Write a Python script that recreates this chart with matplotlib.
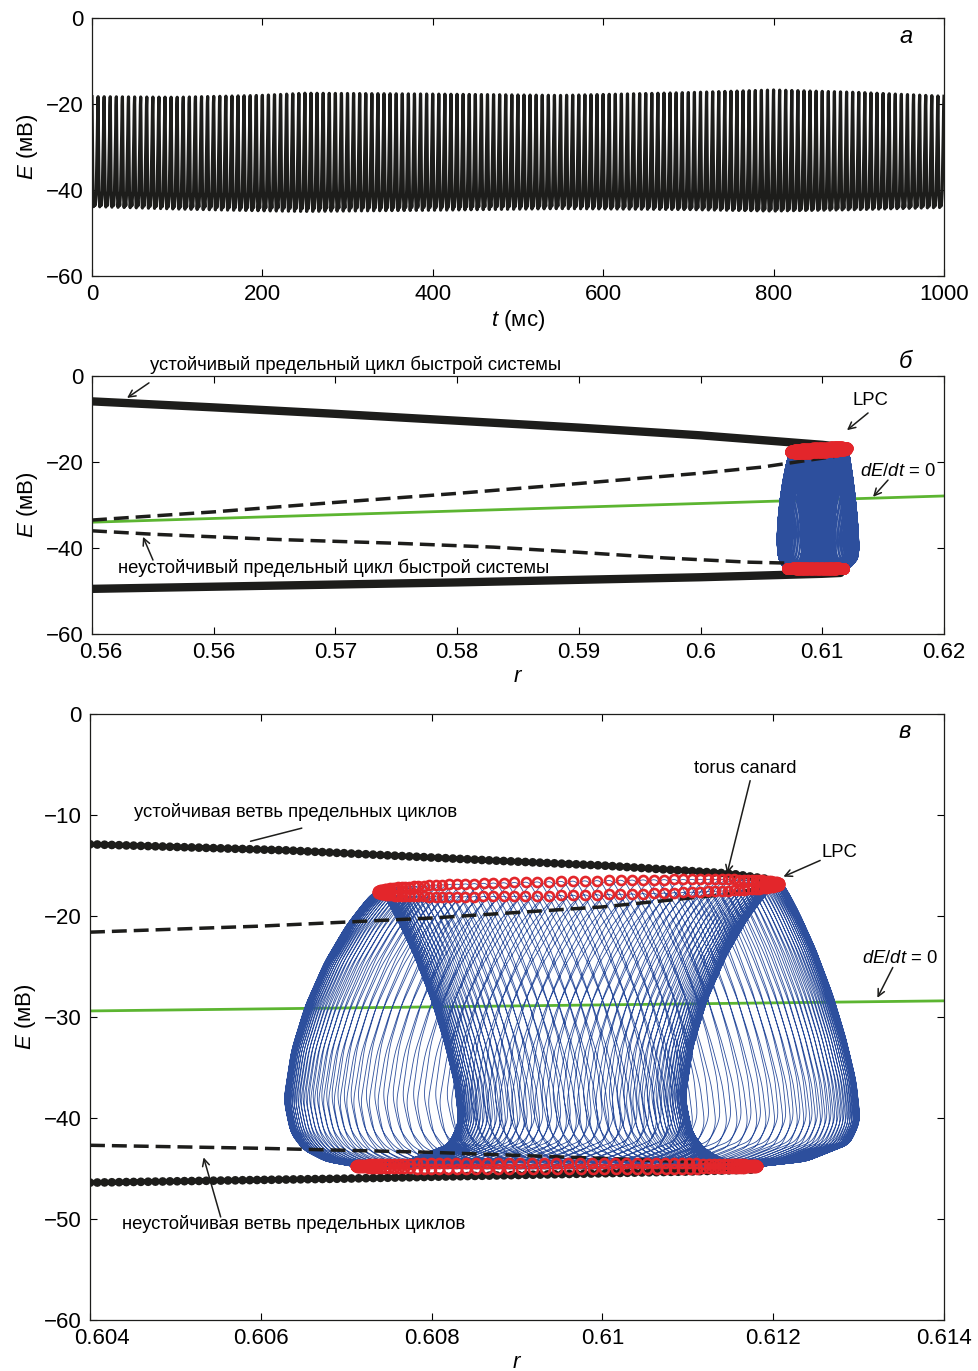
import numpy as np
import matplotlib
matplotlib.use("Agg")
import matplotlib.pyplot as plt
from matplotlib.transforms import ScaledTranslation

plt.rcParams['font.family'] = ['Liberation Sans', 'DejaVu Sans']
plt.rcParams['mathtext.fontset'] = 'custom'
plt.rcParams['mathtext.rm'] = 'Liberation Sans'
plt.rcParams['mathtext.it'] = 'Liberation Sans:italic'

BLACK = '#1d1d1b'
BLUE = '#2d4f9d'
RED = '#e3262b'
GREEN = '#5cb531'
NOTE_FS = 13.3

# ---------------- panel a: E(t) trace ----------------
A_T_ENV = [0, 100, 250, 400, 550, 700, 800, 900, 1000]
A_PEAK = [-18.3, -18.0, -16.6, -17.0, -17.5, -17.0, -16.5, -17.2, -18.2]
A_TROUGH = [-44.0, -44.5, -45.0, -44.8, -44.5, -44.8, -45.2, -44.8, -44.2]
A_N_SPIKES = 140
# one spike cycle (phase, normalised level)
A_WAVE_PHASE = [0.0, 0.06, 0.15, 0.28, 0.42, 0.55, 0.70, 0.85, 0.94, 1.0]
A_WAVE_LEVEL = [1.0, 0.60, 0.15, 0.0, 0.10, 0.02, 0.15, 0.55, 0.90, 1.0]
A_XTICKS = [0, 200, 400, 600, 800, 1000]
A_YTICKS = [0, -20, -40, -60]

# ---------------- panel б: bifurcation diagram ----------------
B_STABLE_UP_R = [0.55, 0.56, 0.57, 0.58, 0.59, 0.60, 0.605, 0.61, 0.6118]
B_STABLE_UP_E = [-5.9, -7.3, -8.8, -10.4, -12.0, -13.8, -14.9, -16.0, -16.6]
B_STABLE_LO_R = [0.55, 0.56, 0.57, 0.58, 0.59, 0.60, 0.61, 0.6115]
B_STABLE_LO_E = [-49.5, -49.0, -48.5, -48.0, -47.4, -46.8, -46.0, -45.8]
B_UNST_UP_R = [0.55, 0.56, 0.57, 0.58, 0.59, 0.60, 0.605, 0.611]
B_UNST_UP_E = [-33.5, -31.6, -29.4, -27.3, -25.0, -22.6, -21.2, -18.7]
B_UNST_LO_R = [0.55, 0.555, 0.565, 0.575, 0.583, 0.59, 0.597, 0.604, 0.607]
B_UNST_LO_E = [-36.0, -36.8, -38.0, -38.9, -39.8, -41.0, -42.3, -43.3, -43.5]
B_NULL_R = [0.55, 0.62]
B_NULL_E = [-34.0, -27.9]
B_XTICKS = [0.55, 0.56, 0.57, 0.58, 0.59, 0.60, 0.61, 0.62]
B_XTICKLABELS = ['0.56', '0.56', '0.57', '0.58', '0.59', '0.6', '0.61', '0.62']

# ---------------- panel в: zoom on the torus ----------------
C_STABLE_UP_R = [0.604, 0.6063, 0.6087, 0.610, 0.6115, 0.6119]
C_STABLE_UP_E = [-12.9, -13.5, -14.5, -15.0, -15.8, -16.3]
C_UNST_UP_R = [0.604, 0.606, 0.608, 0.610, 0.6114, 0.6119]
C_UNST_UP_E = [-21.6, -21.0, -20.2, -19.1, -17.9, -17.2]
C_STABLE_LO_R = [0.604, 0.607, 0.6087, 0.611, 0.6118]
C_STABLE_LO_E = [-46.4, -46.0, -45.7, -45.3, -45.1]
C_UNST_LO_R = [0.604, 0.606, 0.608, 0.610, 0.6112, 0.6118]
C_UNST_LO_E = [-42.7, -43.0, -43.4, -44.0, -44.4, -44.8]
C_NULL_R = [0.604, 0.614]
C_NULL_E = [-29.4, -28.4]
C_XTICKS = [0.604, 0.606, 0.608, 0.610, 0.612, 0.614]
C_XTICKLABELS = ['0.604', '0.606', '0.608', '0.61', '0.612', '0.614']
C_YTICKS = [0, -10, -20, -30, -40, -50, -60]

# torus trajectory: one fast loop (level u: 1 = top, 0 = bottom; dr = r offset from the top)
LOOP_U = [1.00, 0.985, 0.95, 0.87, 0.74, 0.58, 0.42, 0.24, 0.12, 0.06, 0.02, 0.00,
          0.02, 0.08, 0.16, 0.30, 0.45, 0.60, 0.76, 0.88, 0.95, 0.985]
LOOP_DR = [0.0, -0.00010, -0.00020, -0.00040, -0.00065, -0.00088, -0.00104, -0.00113,
           -0.00105, -0.00090, -0.00065, -0.00030,
           0.00030, 0.00080, 0.00092, 0.00087, 0.00075, 0.00060, 0.00040, 0.00022,
           0.00010, 0.00003]
TORUS_R = [0.6074, 0.6121]      # slow drift of the loop tops
TORUS_TOP_E = [-17.4, -16.6]    # loop top at the left / right end of the drift
TORUS_TOP_SPLIT = 0.7
TORUS_BOT_E = -44.8
TORUS_BOT_SPLIT = 0.3
N_LOOPS = 150
N_DRIFT = 1.0
DRIFT_SHARPNESS = 1.2


def loop_template(n=240):
    u = np.array(LOOP_U + [LOOP_U[0]])
    dr = np.array(LOOP_DR + [LOOP_DR[0]])
    seg = np.hypot(np.diff(dr) / 0.002, np.diff(u))
    s = np.concatenate([[0], np.cumsum(seg)])
    grid = np.linspace(0, s[-1], n, endpoint=False)
    uu = np.interp(grid, s, u)
    dd = np.interp(grid, s, dr)
    k = np.hanning(11)
    k /= k.sum()
    uu = np.convolve(np.concatenate([uu[-5:], uu, uu[:5]]), k, mode='valid')
    dd = np.convolve(np.concatenate([dd[-5:], dd, dd[:5]]), k, mode='valid')
    return uu, dd


def torus():
    uu, dd = loop_template()
    P = len(uu)
    t = np.arange(N_LOOPS * P) / P
    psi = 2 * np.pi * N_DRIFT * t / N_LOOPS
    cmid, chalf = np.mean(TORUS_R), (TORUS_R[1] - TORUS_R[0]) / 2
    k = DRIFT_SHARPNESS
    c = cmid - chalf * np.tanh(k * np.cos(psi)) / np.tanh(k)
    frac = (c - TORUS_R[0]) / (TORUS_R[1] - TORUS_R[0])
    etop = TORUS_TOP_E[0] + (TORUS_TOP_E[1] - TORUS_TOP_E[0]) * frac + TORUS_TOP_SPLIT * np.sin(psi)
    ebot = TORUS_BOT_E + TORUS_BOT_SPLIT * np.sin(psi)
    u_t = np.tile(uu, N_LOOPS)
    r = c + np.tile(dd, N_LOOPS)
    E = ebot + u_t * (etop - ebot)
    itop = np.arange(N_LOOPS) * P + np.argmax(uu)
    ibot = np.arange(N_LOOPS) * P + np.argmin(uu)
    return r, E, itop, ibot


def style_axes(ax):
    ax.tick_params(direction='in', top=True, right=True, length=5, width=0.8,
                   labelsize=16, pad=6)
    for sp in ax.spines.values():
        sp.set_linewidth(0.9)
        sp.set_color(BLACK)


def shift_first_label(ax, dx_px):
    lbl = ax.get_xticklabels()[0]
    lbl.set_transform(lbl.get_transform() + ScaledTranslation(dx_px / 100, 0, fig.dpi_scale_trans))


def arrow(ax, start, end, head=True):
    ax.annotate('', xy=end, xytext=start,
                arrowprops=dict(arrowstyle='->,head_length=0.5,head_width=0.25' if head else '-',
                                lw=1.1, color=BLACK, shrinkA=0, shrinkB=0))


W, H = 979, 1371
fig = plt.figure(figsize=(W / 100, H / 100), dpi=100)

# ---------------- a ----------------
ax1 = fig.add_axes([92 / W, 1 - 276 / H, 852 / W, 258 / H])
n_pts = A_N_SPIKES * 40
t = np.linspace(0, 1000, n_pts)
phase = (t / 1000 * A_N_SPIKES) % 1.0
level = np.interp(phase, A_WAVE_PHASE, A_WAVE_LEVEL)
peak = np.interp(t, A_T_ENV, A_PEAK)
trough = np.interp(t, A_T_ENV, A_TROUGH)
ax1.plot(t, trough + level * (peak - trough), color=BLACK, lw=2.3)
ax1.set_xlim(0, 1000)
ax1.set_ylim(-60, 0)
ax1.set_xticks(A_XTICKS)
ax1.set_yticks(A_YTICKS)
ax1.set_xlabel('$t$ (мс)', fontsize=16, labelpad=2)
ax1.set_ylabel('$E$ (мВ)', fontsize=16, labelpad=4)
ax1.text(0.955, 0.93, 'а', transform=ax1.transAxes, fontsize=17, style='italic',
         ha='center', va='center')
style_axes(ax1)

tr_r, tr_E, itop, ibot = torus()

# ---------------- б ----------------
ax2 = fig.add_axes([92 / W, 1 - 634 / H, 852 / W, 258 / H])
ax2.plot(B_NULL_R, B_NULL_E, color=GREEN, lw=2, zorder=1)
ax2.plot(tr_r, tr_E, color=BLUE, lw=0.6, zorder=2)
ax2.plot(B_UNST_UP_R, B_UNST_UP_E, color=BLACK, lw=2.5, dashes=(4.3, 2.0), zorder=3)
ax2.plot(B_UNST_LO_R, B_UNST_LO_E, color=BLACK, lw=2.5, dashes=(4.3, 2.0), zorder=3)
ax2.plot(B_STABLE_UP_R, B_STABLE_UP_E, color=BLACK, lw=6, solid_capstyle='round', zorder=3)
ax2.plot(B_STABLE_LO_R, B_STABLE_LO_E, color=BLACK, lw=6, solid_capstyle='round', zorder=3)
ax2.plot(tr_r[itop], tr_E[itop], 'o', ms=6, mfc=RED, mec=RED, mew=1.5, zorder=4)
ax2.plot(tr_r[ibot], tr_E[ibot], 'o', ms=6, mfc=RED, mec=RED, mew=1.5, zorder=4)
ax2.set_xlim(0.55, 0.62)
ax2.set_ylim(-60, 0)
ax2.set_xticks(B_XTICKS)
ax2.set_xticklabels(B_XTICKLABELS)
ax2.set_yticks(A_YTICKS)
ax2.set_xlabel('$r$', fontsize=16, labelpad=2)
ax2.set_ylabel('$E$ (мВ)', fontsize=16, labelpad=4)
ax2.text(0.6168, 3.3, 'б', fontsize=17, style='italic', ha='center', va='center')
ax2.text(0.55477, 2.6, 'устойчивый предельный цикл быстрой системы', fontsize=NOTE_FS,
         ha='left', va='center')
arrow(ax2, (0.55468, -1.6), (0.55288, -5.1))
ax2.text(0.55214, -44.7, 'неустойчивый предельный цикл быстрой системы', fontsize=NOTE_FS,
         ha='left', va='center')
arrow(ax2, (0.55501, -42.8), (0.55419, -37.4))
ax2.text(0.61392, -5.8, 'LPC', fontsize=NOTE_FS, ha='center', va='center')
arrow(ax2, (0.61376, -8.6), (0.61203, -12.6))
ax2.text(0.6131, -22.1, '$dE/dt$ = 0', fontsize=NOTE_FS, ha='left', va='center')
arrow(ax2, (0.6154, -24.2), (0.61417, -28.1))
style_axes(ax2)
shift_first_label(ax2, 9)

# ---------------- в ----------------
ax3 = fig.add_axes([90 / W, 1 - 1320 / H, 854 / W, 606 / H])
ax3.plot(C_NULL_R, C_NULL_E, color=GREEN, lw=2, zorder=1)
ax3.plot(tr_r, tr_E, color=BLUE, lw=0.6, zorder=2)
ax3.plot(C_UNST_UP_R, C_UNST_UP_E, color=BLACK, lw=2.5, dashes=(4.3, 2.0), zorder=3)
ax3.plot(C_UNST_LO_R, C_UNST_LO_E, color=BLACK, lw=2.5, dashes=(4.3, 2.0), zorder=3)
ax3.plot(C_STABLE_UP_R, C_STABLE_UP_E, color=BLACK, lw=6.3, linestyle=(0, (0.01, 0.82)),
         dash_capstyle='round', zorder=3)
ax3.plot(C_STABLE_LO_R, C_STABLE_LO_E, color=BLACK, lw=6.3, linestyle=(0, (0.01, 0.82)),
         dash_capstyle='round', zorder=3)
ax3.plot(tr_r[itop], tr_E[itop], 'o', ms=6.5, mfc='none', mec=RED, mew=1.9, zorder=4)
ax3.plot(tr_r[ibot], tr_E[ibot], 'o', ms=6.5, mfc='none', mec=RED, mew=1.9, zorder=4)
ax3.set_xlim(0.604, 0.614)
ax3.set_ylim(-60, 0)
ax3.set_xticks(C_XTICKS)
ax3.set_xticklabels(C_XTICKLABELS)
ax3.set_yticks(C_YTICKS)
ax3.set_xlabel('$r$', fontsize=16, labelpad=2)
ax3.set_ylabel('$E$ (мВ)', fontsize=16, labelpad=4)
ax3.text(0.61354, -1.7, 'в', fontsize=17, style='italic', ha='center', va='center')
ax3.text(0.61167, -5.4, 'torus canard', fontsize=NOTE_FS, ha='center', va='center')
arrow(ax3, (0.61173, -6.6), (0.61146, -15.8))
ax3.text(0.61278, -13.7, 'LPC', fontsize=NOTE_FS, ha='center', va='center')
arrow(ax3, (0.61255, -14.5), (0.61212, -16.1))
ax3.text(0.61349, -24.2, '$dE/dt$ = 0', fontsize=NOTE_FS, ha='center', va='center')
arrow(ax3, (0.61340, -25.1), (0.61322, -28.1))
ax3.text(0.60451, -9.7, 'устойчивая ветвь предельных циклов', fontsize=NOTE_FS,
         ha='left', va='center')
arrow(ax3, (0.60648, -11.3), (0.60588, -12.6), head=False)
ax3.text(0.60437, -50.5, 'неустойчивая ветвь предельных циклов', fontsize=NOTE_FS,
         ha='left', va='center')
arrow(ax3, (0.60553, -49.8), (0.60533, -43.9))
style_axes(ax3)
shift_first_label(ax3, 12)

fig.savefig('out.png', dpi=100)
